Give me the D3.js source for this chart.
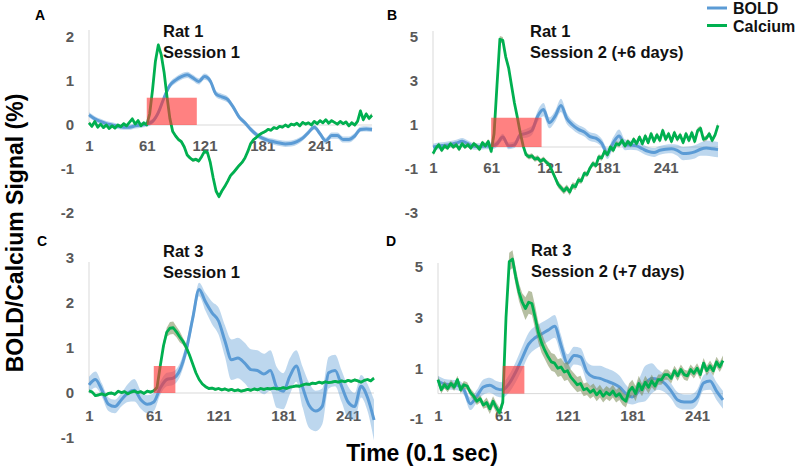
<!DOCTYPE html>
<html><head><meta charset="utf-8">
<script src="https://cdn.jsdelivr.net/npm/d3@7"></script>
<style>
body{margin:0;background:#fff}
svg{display:block}
text{font-family:"Liberation Sans",Arial,sans-serif;font-weight:bold}
</style>
</head><body>
<svg id="chart" width="800" height="470"></svg>
<script>
// ---------- DATA ----------
const xTickLabels = [1, 61, 121, 181, 241];
const seriesNames = ["BOLD", "Calcium"];
const panelLetters = ["A", "B", "C", "D"];
const panelTitles = [["Rat 1", "Session 1"], ["Rat 1", "Session 2 (+6 days)"], ["Rat 3", "Session 1"], ["Rat 3", "Session 2 (+7 days)"]];
const sampleCounts = [295, 295, 265, 265];   // time points (0.1 s) per panel
const yTicksA = [-2, -1, 0, 1, 2];
const yTicksB = [-3, -1, 1, 3, 5];
const yTicksC = [-1, 0, 1, 2, 3];
const yTicksD = [-1, 1, 3, 5];
const stimOn = [61, 61, 61, 61];
const stimOff = [113, 113, 81, 81];
const stimAmp = [0.62, 1.33, 0.6, 1.09];

// Calcium: every 3rd time point (1,4,7,...); BOLD & error bands: every 6th (1,7,13,...)
const A_ca = [0.05,-0.03,0.08,-0.05,0.02,-0.06,0.0,-0.08,-0.02,-0.07,
  0.0,-0.04,0.03,-0.02,0.06,0.14,0.02,0.1,-0.02,0.05,
  0.0,0.25,0.8,1.45,1.82,1.6,1.2,0.65,0.15,-0.15,
  -0.25,-0.33,-0.38,-0.5,-0.68,-0.75,-0.8,-0.78,-0.82,-0.72,
  -0.6,-0.62,-0.85,-1.2,-1.5,-1.63,-1.5,-1.4,-1.28,-1.15,
  -1.08,-1.0,-0.92,-0.85,-0.75,-0.6,-0.42,-0.33,-0.28,-0.22,
  -0.18,-0.15,-0.1,-0.12,-0.06,-0.08,-0.03,-0.05,0.0,-0.04,
  0.02,0.0,0.04,-0.02,0.06,0.02,0.05,0.0,0.08,0.03,
  0.1,0.05,0.12,0.04,0.1,0.06,0.02,0.08,0.03,0.07,
  -0.02,0.05,0.0,0.08,0.32,0.12,0.25,0.15,0.22];
const A_caErr = [0.03,0.03,0.03,0.03,0.03,0.03,0.03,0.03,0.03,0.03,
  0.03,0.04,0.05,0.05,0.04,0.04,0.04,0.04,0.04,0.04,
  0.04,0.04,0.04,0.04,0.04,0.04,0.04,0.04,0.03,0.03,
  0.03,0.03,0.03,0.03,0.03,0.03,0.03,0.03,0.03,0.03,
  0.03,0.03,0.03,0.03,0.03,0.03,0.04,0.05,0.05,0.05];
const A_bold = [0.23,0.14,0.08,0.03,0.0,-0.03,-0.05,-0.05,-0.02,0.0,
  0.02,0.08,0.28,0.62,0.9,1.02,1.1,1.14,1.07,0.99,
  1.1,1.0,0.7,0.64,0.58,0.4,0.18,0.05,-0.1,-0.22,
  -0.3,-0.35,-0.38,-0.41,-0.43,-0.42,-0.38,-0.3,-0.17,-0.05,
  -0.2,-0.36,-0.24,-0.24,-0.33,-0.33,-0.25,-0.1,-0.09,-0.1];
const A_boldErr = [0.06,0.06,0.06,0.06,0.06,0.06,0.06,0.06,0.06,0.06,
  0.06,0.06,0.06,0.07,0.07,0.07,0.07,0.07,0.07,0.07,
  0.07,0.07,0.07,0.07,0.07,0.06,0.06,0.06,0.06,0.06,
  0.06,0.06,0.07,0.07,0.07,0.07,0.07,0.06,0.06,0.06,
  0.06,0.07,0.07,0.07,0.07,0.07,0.07,0.06,0.06,0.06];

const B_ca = [-0.3,-0.05,0.1,-0.15,0.05,-0.05,0.15,0.0,0.1,-0.1,
  0.15,0.0,0.1,-0.05,0.15,0.05,-0.1,0.2,0.05,0.25,
  -0.2,0.6,2.8,4.9,4.85,4.1,3.6,2.8,2.0,1.35,
  0.65,0.05,-0.35,-0.45,-0.4,-0.55,-0.5,-0.65,-0.55,-0.7,
  -0.8,-1.1,-1.4,-1.7,-1.85,-2.0,-1.85,-2.05,-1.75,-1.8,
  -1.5,-1.55,-1.2,-1.25,-0.95,-0.75,-0.85,-0.45,-0.5,-0.2,
  -0.35,0.0,-0.15,0.15,0.1,0.3,0.05,0.25,0.1,0.35,
  0.15,0.45,0.15,0.5,0.2,0.6,0.25,0.55,0.3,0.75,
  0.35,0.6,0.25,0.65,0.35,0.55,0.2,0.6,0.3,0.65,
  0.25,0.75,0.85,0.35,0.4,0.6,0.3,0.55,0.98];
const B_caErr = [0.1,0.1,0.1,0.1,0.1,0.1,0.1,0.1,0.1,0.1,
  0.12,0.15,0.15,0.15,0.15,0.12,0.12,0.12,0.12,0.12,
  0.12,0.12,0.15,0.15,0.15,0.15,0.12,0.12,0.12,0.12,
  0.12,0.12,0.12,0.12,0.12,0.12,0.12,0.12,0.12,0.12,
  0.12,0.12,0.12,0.12,0.12,0.12,0.12,0.12,0.12,0.12];
const B_bold = [0.0,0.05,0.08,0.12,0.18,0.26,0.15,0.03,0.02,0.05,
  0.05,0.15,0.45,0.05,0.1,0.55,0.62,0.75,1.4,1.7,
  1.1,1.4,1.89,1.3,1.0,0.8,0.68,0.47,0.4,0.18,
  -0.3,0.2,0.5,0.1,0.08,0.05,-0.08,-0.2,-0.25,-0.15,
  -0.1,-0.08,-0.15,-0.3,-0.28,-0.22,-0.1,-0.05,-0.08,-0.12];
const B_boldErr = [0.15,0.15,0.15,0.15,0.15,0.15,0.15,0.15,0.15,0.15,
  0.15,0.15,0.15,0.15,0.15,0.15,0.2,0.2,0.25,0.3,
  0.25,0.25,0.3,0.25,0.2,0.2,0.2,0.2,0.2,0.2,
  0.25,0.25,0.3,0.25,0.2,0.2,0.2,0.2,0.2,0.2,
  0.2,0.2,0.25,0.3,0.3,0.3,0.3,0.35,0.35,0.35];

const C_ca = [0.05,0.02,-0.06,-0.04,-0.02,-0.05,-0.01,0.0,-0.03,0.04,
  0.01,0.03,-0.02,0.02,0.04,0.01,0.03,-0.01,0.04,0.02,
  0.05,0.12,0.6,1.05,1.35,1.44,1.45,1.36,1.25,1.15,
  1.02,0.85,0.65,0.45,0.3,0.2,0.14,0.1,0.11,0.08,
  0.1,0.07,0.09,0.06,0.08,0.05,0.07,0.04,0.06,0.08,
  0.06,0.09,0.07,0.1,0.08,0.1,0.09,0.11,0.09,0.1,
  0.12,0.1,0.13,0.14,0.16,0.15,0.18,0.2,0.19,0.22,
  0.21,0.24,0.22,0.25,0.23,0.24,0.26,0.24,0.27,0.25,
  0.28,0.26,0.29,0.27,0.24,0.28,0.3,0.27,0.33];
const C_caErr = [0.03,0.03,0.03,0.03,0.03,0.03,0.03,0.03,0.03,0.03,
  0.03,0.06,0.1,0.14,0.12,0.08,0.05,0.03,0.03,0.03,
  0.03,0.03,0.03,0.03,0.03,0.03,0.03,0.03,0.03,0.03,
  0.03,0.03,0.03,0.03,0.03,0.03,0.03,0.03,0.03,0.03,
  0.03,0.03,0.03,0.03,0.03];
const C_bold = [0.18,0.3,0.06,-0.25,-0.3,-0.15,0.0,0.06,-0.15,-0.25,
  -0.2,0.11,0.3,0.33,0.5,0.95,1.65,2.3,2.02,1.78,
  1.6,1.15,0.74,0.78,0.67,0.52,0.5,0.42,0.5,0.12,
  0.04,0.37,0.6,0.12,-0.28,-0.4,-0.3,0.45,0.5,0.15,
  -0.2,-0.3,0.15,-0.1,-0.6];
const C_boldErr = [0.18,0.18,0.15,0.15,0.15,0.15,0.2,0.25,0.2,0.2,
  0.2,0.15,0.15,0.15,0.15,0.15,0.15,0.15,0.2,0.25,
  0.3,0.35,0.45,0.45,0.45,0.45,0.45,0.45,0.45,0.45,
  0.4,0.4,0.35,0.45,0.5,0.45,0.4,0.35,0.35,0.35,
  0.35,0.3,0.25,0.3,0.45];

const D_ca = [0.55,0.15,0.35,0.2,0.4,0.25,0.55,0.15,0.35,0.3,
  0.05,-0.1,-0.3,-0.2,-0.45,-0.35,-0.6,-0.3,-0.55,-0.75,
  -0.35,3.0,5.2,5.3,4.6,4.0,3.6,3.35,3.6,3.55,
  3.0,2.4,2.0,1.7,1.45,1.25,1.2,1.0,1.05,0.85,
  0.9,0.65,0.5,0.35,0.4,0.15,0.2,0.05,0.15,-0.05,
  0.1,-0.1,0.05,-0.05,0.1,-0.1,0.0,-0.2,-0.3,0.1,
  0.25,0.0,0.4,0.15,0.45,0.25,0.5,0.3,0.55,0.55,
  0.75,0.75,0.6,0.9,0.7,0.95,0.75,0.7,0.95,0.8,
  1.0,0.75,1.2,0.9,1.1,0.9,1.25,1.05,1.3];
const D_caErr = [0.15,0.15,0.15,0.15,0.15,0.15,0.15,0.15,0.2,0.2,
  0.2,0.35,0.35,0.35,0.45,0.45,0.4,0.35,0.35,0.35,
  0.35,0.3,0.3,0.25,0.25,0.25,0.25,0.25,0.25,0.25,
  0.3,0.3,0.25,0.25,0.2,0.2,0.2,0.2,0.2,0.2,
  0.2,0.2,0.2,0.2,0.2];
const D_bold = [0.5,0.38,0.35,0.33,0.15,-0.4,-0.1,0.26,0.33,0.2,
  0.15,0.4,0.85,1.4,1.95,2.2,2.35,2.5,2.65,1.9,
  1.2,1.5,1.45,0.85,0.65,0.6,0.5,0.4,0.26,0.0,
  -0.13,0.1,0.4,0.6,0.55,0.4,0.1,-0.25,-0.33,-0.33,
  -0.15,0.42,0.5,0.1,-0.25];
const D_boldErr = [0.2,0.2,0.2,0.2,0.2,0.25,0.25,0.3,0.3,0.3,
  0.3,0.35,0.4,0.45,0.45,0.45,0.45,0.45,0.45,0.4,
  0.35,0.35,0.35,0.4,0.45,0.5,0.5,0.5,0.45,0.35,
  0.3,0.45,0.7,0.6,0.4,0.35,0.3,0.3,0.3,0.3,
  0.3,0.3,0.35,0.35,0.35];

// ---------- LAYOUT (positions only) ----------
const layout = [
  {px:[89,372],  py:[213,37],   top:30,  xPad:15, letter:[35,20],   title:[163,37]},
  {px:[433,718], py:[213,37],   top:31,  xPad:15, letter:[387,20],  title:[530,37]},
  {px:[89,374],  py:[438,258],  top:262, xPad:17, letter:[37,246],  title:[163,257]},
  {px:[438,723], py:[419,266.7],top:263, xPad:17, letter:[386,246], title:[531,256]}
];
const panels = [
  {ca:A_ca, caErr:A_caErr, bold:A_bold, boldErr:A_boldErr, yTicks:yTicksA},
  {ca:B_ca, caErr:B_caErr, bold:B_bold, boldErr:B_boldErr, yTicks:yTicksB},
  {ca:C_ca, caErr:C_caErr, bold:C_bold, boldErr:C_boldErr, yTicks:yTicksC},
  {ca:D_ca, caErr:D_caErr, bold:D_bold, boldErr:D_boldErr, yTicks:yTicksD}
];

const BLUE = "#5b9bd5", GREEN = "#00b050";
const svg = d3.select("#chart");

panels.forEach((p, i) => {
  const L = layout[i];
  const N = sampleCounts[i];
  const x = d3.scaleLinear().domain([1, N]).range(L.px);
  const y = d3.scaleLinear().domain(d3.extent(p.yTicks)).range(L.py);
  const g = svg.append("g");

  // axis lines
  g.append("line").attr("x1", x(1)).attr("x2", x(N)).attr("y1", y(0)).attr("y2", y(0))
    .attr("stroke", "#d9d9d9").attr("stroke-width", 1);
  g.append("line").attr("x1", x(1)).attr("x2", x(1)).attr("y1", L.top).attr("y2", y(0))
    .attr("stroke", "#d9d9d9").attr("stroke-width", 1);

  // y axis labels
  const ya = g.append("g").attr("transform", `translate(${x(1)},0)`)
    .call(d3.axisLeft(y).tickValues(p.yTicks).tickSize(0).tickPadding(15).tickFormat(d => String(d)));
  ya.select(".domain").remove();
  ya.selectAll("text").attr("fill", "#595959").style("font-size", "15px")
    .style("font-family", '"Liberation Sans",Arial,sans-serif').style("font-weight", "bold");

  // x axis labels at zero line
  const xa = g.append("g").attr("transform", `translate(0,${y(0)})`)
    .call(d3.axisBottom(x).tickValues(xTickLabels).tickSize(0).tickPadding(L.xPad).tickFormat(d => String(d)));
  xa.select(".domain").remove();
  xa.selectAll("text").attr("fill", "#595959").style("font-size", "15px")
    .style("font-family", '"Liberation Sans",Arial,sans-serif').style("font-weight", "bold");

  // data
  const boldT = d3.range(1, N + 1, 6);
  const caT = d3.range(1, N + 1, 3);
  const boldData = p.bold.map((v, k) => ({t: boldT[k], v, e: p.boldErr[k]}));
  const caData = p.ca.map((v, k) => ({t: caT[k], v,
    e: p.caErr[Math.min(p.caErr.length - 1, Math.round((caT[k] - 1) / 6))]}));

  const bandB = d3.area().x(d => x(d.t)).y0(d => y(d.v - d.e)).y1(d => y(d.v + d.e)).curve(d3.curveMonotoneX);
  const lineB = d3.line().x(d => x(d.t)).y(d => y(d.v)).curve(d3.curveMonotoneX);
  const bandC = d3.area().x(d => x(d.t)).y0(d => y(d.v - d.e)).y1(d => y(d.v + d.e));
  const lineC = d3.line().x(d => x(d.t)).y(d => y(d.v));

  g.append("path").datum(boldData).attr("d", bandB).attr("fill", BLUE).attr("fill-opacity", 0.4);
  g.append("path").datum(boldData).attr("d", lineB).attr("fill", "none").attr("stroke", BLUE)
    .attr("stroke-width", 3).attr("stroke-linejoin", "round");
  g.append("path").datum(caData).attr("d", bandC).attr("fill", "#7a8a55").attr("fill-opacity", 0.55);
  g.append("path").datum(caData).attr("d", lineC).attr("fill", "none").attr("stroke", GREEN)
    .attr("stroke-width", 2.8).attr("stroke-linejoin", "round");

  // stimulation box
  g.append("rect").attr("x", x(stimOn[i])).attr("width", x(stimOff[i]) - x(stimOn[i]))
    .attr("y", y(stimAmp[i])).attr("height", y(0) - y(stimAmp[i]))
    .attr("fill", "#ff3333").attr("fill-opacity", 0.62);

  // title and letter
  g.append("text").attr("x", L.letter[0]).attr("y", L.letter[1]).attr("font-size", 14)
    .attr("fill", "#000").text(panelLetters[i]);
  const tt = g.append("text").attr("x", L.title[0]).attr("y", L.title[1]).attr("font-size", 16.5).attr("fill", "#111");
  panelTitles[i].forEach((s, k) => tt.append("tspan").attr("x", L.title[0]).attr("dy", k === 0 ? 0 : 21).text(s));
});

// legend
const legColors = [BLUE, GREEN];
seriesNames.forEach((s, k) => {
  const yy = 8 + k * 17.5;
  svg.append("line").attr("x1", 707).attr("x2", 727).attr("y1", yy).attr("y2", yy)
    .attr("stroke", legColors[k]).attr("stroke-width", 3);
  svg.append("text").attr("x", 733).attr("y", yy + 6).attr("font-size", 16).attr("fill", "#111").text(s);
});

// axis titles
svg.append("text").attr("transform", "translate(23,233) rotate(-90)").attr("text-anchor", "middle")
  .attr("font-size", 23).attr("fill", "#000").text("BOLD/Calcium Signal (%)");
svg.append("text").attr("x", 422).attr("y", 461).attr("text-anchor", "middle")
  .attr("font-size", 23).attr("fill", "#000").text("Time (0.1 sec)");
</script>
</body></html>
